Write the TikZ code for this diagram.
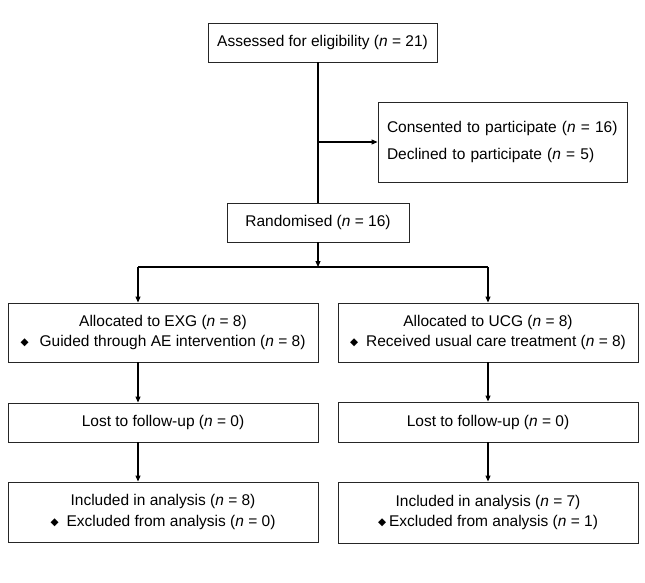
\documentclass[tikz,border=0pt]{standalone}
\usepackage{fontspec}
\setmainfont{Liberation Sans}
\newfontfamily\symfnt{DejaVu Sans}
\usetikzlibrary{arrows.meta}
\newcommand{\dmd}{\raisebox{0.8pt}{\fontsize{10.5}{10}\symfnt ◆}}
\tikzset{
  box/.style={draw=black!85, line width=0.9pt, fill=white, inner sep=0pt, align=center,
    font=\fontsize{15.5}{20.5}\selectfont},
  conn/.style={line width=1.1pt, draw=black},
  arr/.style={conn, -{Triangle[length=6pt,width=5pt]}},
}
\begin{document}
\begin{tikzpicture}[x=1pt,y=-1pt]
\useasboundingbox (0,0) rectangle (645,583);
\node[box, minimum width=229pt, minimum height=39pt] (assess) at (322.5,42.5)
  {Assessed for eligibility (\textit{n} = 21)};
\node[box, inner xsep=9pt, text width=231pt, align=left, minimum height=80pt] (consent) at (502.5,142)
  {Consented to participate (\textit{n} = 16)\\[7pt]Declined to participate (\textit{n} = 5)};
\node[box, minimum width=182pt, minimum height=39pt] (rand) at (318,222.5)
  {Randomised (\textit{n} = 16)};
\node[box, minimum width=310pt, minimum height=59pt] (exg) at (163,332.5)
  {Allocated to EXG (\textit{n} = 8)\\\dmd\hspace{11pt}Guided through AE intervention (\textit{n} = 8)};
\node[box, minimum width=300pt, minimum height=59pt] (ucg) at (488,332.5)
  {Allocated to UCG (\textit{n} = 8)\\\dmd\hspace{8pt}Received usual care treatment (\textit{n} = 8)};
\node[box, minimum width=310pt, minimum height=39pt] (lost1) at (163,422.5)
  {Lost to follow-up (\textit{n} = 0)};
\node[box, minimum width=300pt, minimum height=40pt] (lost2) at (488,422)
  {Lost to follow-up (\textit{n} = 0)};
\node[box, minimum width=310pt, minimum height=60pt] (inc1) at (163,512)
  {Included in analysis (\textit{n} = 8)\\\dmd\hspace{8pt}Excluded from analysis (\textit{n} = 0)};
\node[box, minimum width=300pt, minimum height=61pt] (inc2) at (488,512.5)
  {Included in analysis (\textit{n} = 7)\\\dmd\hspace{3pt}Excluded from analysis (\textit{n} = 1)};
\coordinate (sl) at (138,267);
\coordinate (sr) at (488,267);
\coordinate (split) at (318,267);
\draw[conn] (assess.south -| rand.north) -- (rand.north);
\draw[arr] (rand.north |- consent.west) -- (consent.west);
\draw[arr] (rand.south) -- (split);
\draw[conn] (sl) -- (sr);
\draw[arr] (sl) -- (sl |- exg.north);
\draw[arr] (sr) -- (ucg.north);
\draw[arr] (exg.south -| sl) -- (lost1.north -| sl);
\draw[arr] (lost1.south -| sl) -- (inc1.north -| sl);
\draw[arr] (ucg.south) -- (lost2.north);
\draw[arr] (lost2.south) -- (inc2.north);
\end{tikzpicture}
\end{document}
